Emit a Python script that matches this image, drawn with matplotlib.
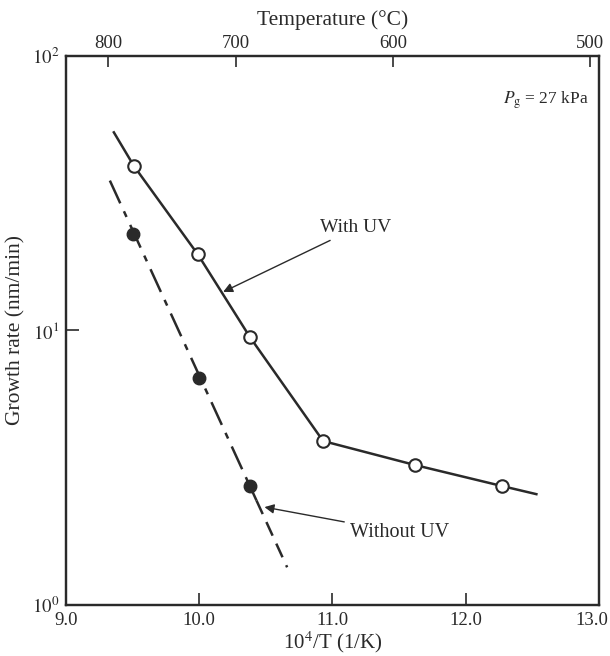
import numpy as np
import matplotlib
matplotlib.use("Agg")
import matplotlib.pyplot as plt
import matplotlib.transforms as mtrans

plt.rcParams['font.family'] = ['Liberation Serif', 'DejaVu Serif']
plt.rcParams['mathtext.fontset'] = 'stix'

# data
uv_x = [9.51, 9.99, 10.38, 10.93, 11.62, 12.27]
uv_y = [39.7, 18.9, 9.46, 3.95, 3.23, 2.71]
uv_line_x = [9.36, 9.51, 9.99, 10.38, 10.93, 11.62, 12.27, 12.53]
uv_line_y = [52.6, 39.7, 18.9, 9.46, 3.95, 3.23, 2.71, 2.53]

nouv_x = [9.505, 10.0, 10.38]
nouv_y = [22.4, 6.69, 2.71]
nouv_fit_x = [9.33, 10.43]
nouv_fit_y = [35.1, 2.40]
nouv_ext_x = [10.43, 10.66]
nouv_ext_y = [2.40, 1.37]

temp_ticks = [800, 700, 600, 500]

ink = '#2a2a2a'

fig = plt.figure(figsize=(6.1, 6.56), dpi=100)
ax = fig.add_axes([0.108, 0.078, 0.874, 0.837])

ax.plot(uv_line_x, uv_line_y, color=ink, lw=1.8, zorder=2)
ax.plot(uv_x, uv_y, 'o', ms=9, mfc='white', mec=ink, mew=1.5, zorder=3)

ax.plot(nouv_fit_x, nouv_fit_y, color=ink, lw=1.8, dashes=(10, 3.5, 2.5, 3.5), zorder=2)
ax.plot(nouv_ext_x, nouv_ext_y, color=ink, lw=1.8, dashes=(6, 3.5), zorder=2)
ax.plot(nouv_x, nouv_y, 'o', ms=9, mfc=ink, mec=ink, zorder=3)

ax.set_yscale('log')
ax.set_xlim(9.0, 13.0)
ax.set_ylim(1, 100)
ax.set_xticks([9.0, 10.0, 11.0, 12.0, 13.0])
ax.set_xticklabels(['9.0', '10.0', '11.0', '12.0', '13.0'])
ax.set_yticks([1, 10, 100])
ax.set_yticklabels([r'$10^0$', r'$10^1$', r'$10^2$'])
ax.yaxis.set_minor_locator(matplotlib.ticker.NullLocator())
ax.tick_params(axis='x', direction='in', length=9, width=1.2, colors=ink,
               labelsize=13.5, pad=5)
ax.tick_params(axis='y', direction='in', length=9, width=1.2, colors=ink,
               labelsize=13.5, pad=5)
# last bottom label sits a little left of its tick
last = ax.get_xticklabels()[-1]
last.set_transform(last.get_transform() +
                   mtrans.ScaledTranslation(-7 / 100, 0, fig.dpi_scale_trans))
for s in ax.spines.values():
    s.set_linewidth(1.6)
    s.set_color(ink)

ax.set_xlabel(r'10$^4$/T (1/K)', fontsize=15, color=ink, labelpad=0)
ax.set_ylabel('Growth rate (nm/min)', fontsize=15.5, color=ink)
ax.yaxis.set_label_coords(-0.075, 0.5)

top = ax.twiny()
top.set_xlim(ax.get_xlim())
top.set_xticks([1e4 / (t + 273.15) for t in temp_ticks])
top.set_xticklabels([str(t) for t in temp_ticks])
top.tick_params(axis='x', direction='in', length=8, width=1.2, colors=ink,
                labelsize=13.5, pad=3)
top.set_xlabel('Temperature (\u00b0C)', fontsize=15.5, color=ink, labelpad=7)
for s in top.spines.values():
    s.set_linewidth(1.6)
    s.set_color(ink)

ax.text(12.28, 69, r'$P_{\rm g}$ = 27 kPa', fontsize=12.5, color=ink, va='center')

ax.annotate('With UV', xy=(10.18, 13.8), xytext=(10.91, 23.6),
            fontsize=14, color=ink, va='center', ha='left',
            arrowprops=dict(arrowstyle='-|>', color=ink, lw=1.0,
                            mutation_scale=14, shrinkA=2, shrinkB=0))
ax.annotate('Without UV', xy=(10.49, 2.27), xytext=(11.13, 1.84),
            fontsize=14.5, color=ink, va='center', ha='left',
            arrowprops=dict(arrowstyle='-|>', color=ink, lw=1.0,
                            mutation_scale=14, shrinkA=2, shrinkB=0))

fig.savefig('out.png', dpi=100)
